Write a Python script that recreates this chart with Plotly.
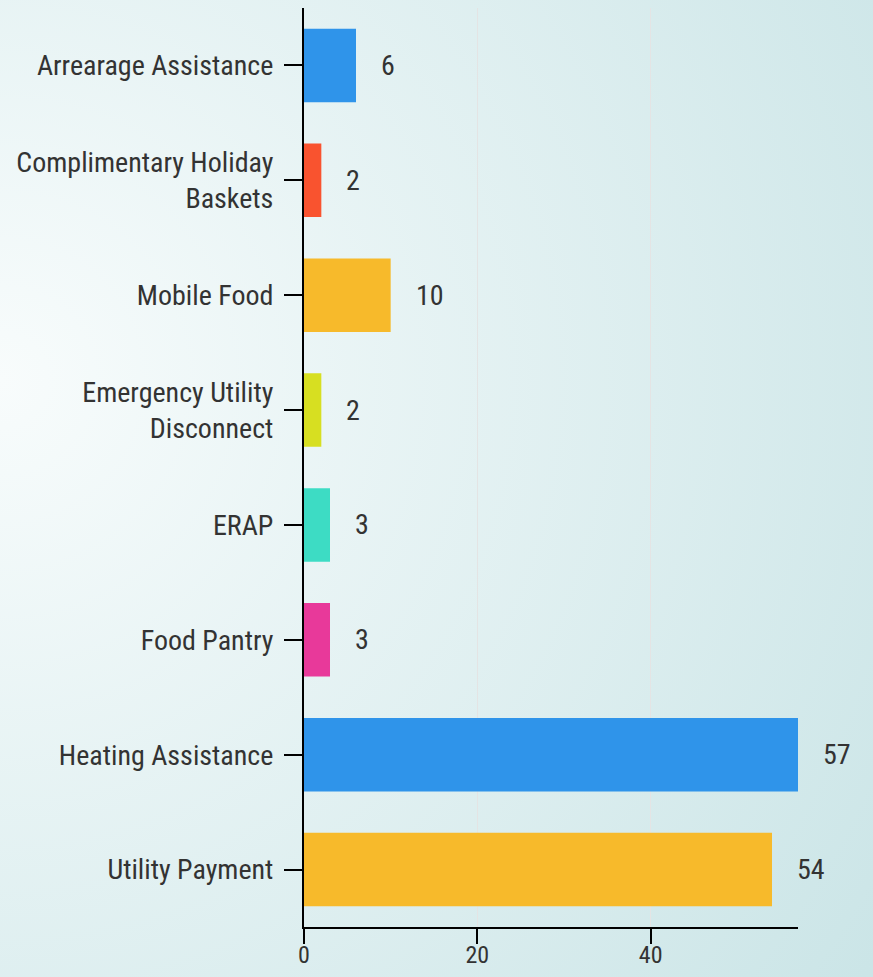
import plotly.graph_objects as go

categories = ["Arrearage Assistance", "Complimentary Holiday<br>Baskets", "Mobile Food",
              "Emergency Utility<br>Disconnect", "ERAP", "Food Pantry",
              "Heating Assistance", "Utility Payment"]
values = [6, 2, 10, 2, 3, 3, 57, 54]
bar_colors = ["#2f94ea", "#f9532f", "#f7ba2b", "#d7df21", "#3ddcc4", "#e8399a",
              "#2f94ea", "#f7ba2b"]
x_ticks = [0, 20, 40]

W, H = 873, 977
ML, MR, MT, MB = 304, 75, 8, 50
pw, ph = W - ML - MR, H - MT - MB

FONT = "Roboto Condensed, Liberation Sans Narrow, Roboto, sans-serif"
TXT = "#333333"
FS = 28

svg = ("data:image/svg+xml;utf8,"
       "<svg xmlns='http://www.w3.org/2000/svg' width='873' height='977' viewBox='0 0 873 977' preserveAspectRatio='none'>"
       "<defs><radialGradient id='g' gradientUnits='userSpaceOnUse' cx='0' cy='380' r='1050'>"
       "<stop offset='0' stop-color='%23f8fcfc'/><stop offset='1' stop-color='%23cbe5e7'/>"
       "</radialGradient></defs><rect width='873' height='977' fill='url(%23g)'/></svg>")

fig = go.Figure(go.Bar(
    x=values, y=categories, orientation="h",
    marker=dict(color=bar_colors, line=dict(width=0)),
    width=0.64, hoverinfo="skip",
))

for v, c in zip(values, categories):
    fig.add_annotation(x=v, y=c, text=str(v), showarrow=False, xanchor="left",
                       xshift=23, font=dict(family=FONT, size=FS, color=TXT))

fig.update_layout(
    width=W, height=H,
    margin=dict(l=ML, r=MR, t=MT, b=MB, pad=0, autoexpand=False),
    paper_bgcolor="#e3f1f2", plot_bgcolor="rgba(0,0,0,0)",
    showlegend=False,
    font=dict(family=FONT, size=FS, color=TXT),
    images=[dict(source=svg, xref="paper", yref="paper",
                 x=-ML / pw, y=1 + MT / ph, sizex=W / pw, sizey=H / ph,
                 xanchor="left", yanchor="top", sizing="stretch", layer="below")],
    xaxis=dict(range=[0, 57], tickvals=x_ticks, ticks="outside", ticklen=15,
               tickwidth=2, tickcolor="#000", showline=True, linecolor="#000",
               linewidth=2, showgrid=True, gridcolor="#e4e4e4", gridwidth=1,
               zeroline=False, fixedrange=True, automargin=False,
               ticklabelstandoff=-10, tickfont=dict(size=24)),
    yaxis=dict(autorange="reversed", ticks="outside", ticklen=18, tickwidth=2,
               tickcolor="#000", showline=True, linecolor="#000", linewidth=2,
               showgrid=False, zeroline=False, ticklabelstandoff=5, automargin=False,
               fixedrange=True),
)

fig.write_html("out.html", config={"displayModeBar": False, "staticPlot": True},
               post_script="document.body.style.margin='0';document.body.style.padding='0';")
